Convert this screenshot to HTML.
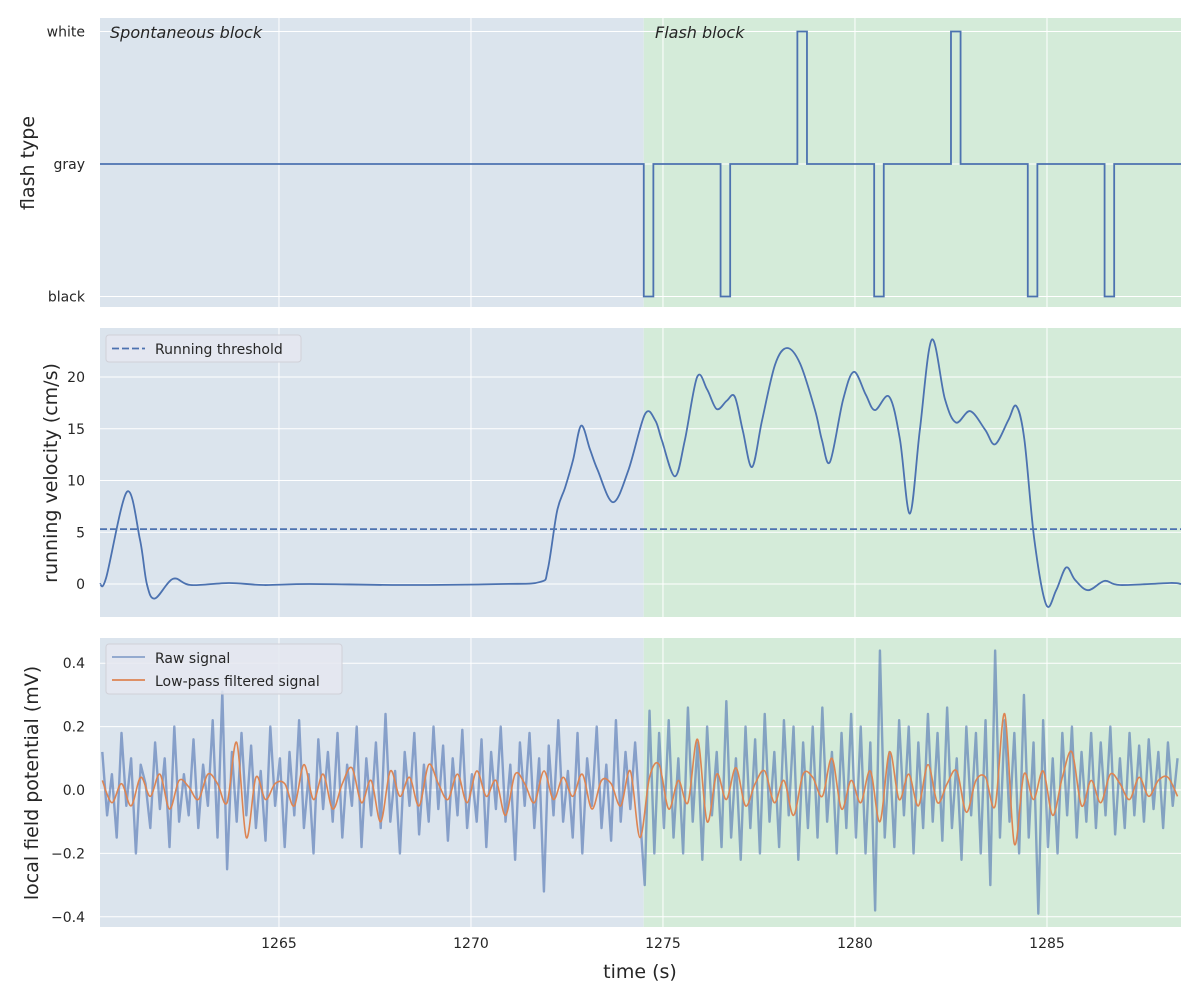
<!DOCTYPE html>
<html><head><meta charset="utf-8"><style>
body{margin:0;background:#fff;font-family:"Liberation Sans","DejaVu Sans",sans-serif}
svg text{font-family:"DejaVu Sans","Liberation Sans",sans-serif;fill:#262626}
</style></head><body>
<svg id="fig" width="1200" height="1000" xmlns="http://www.w3.org/2000/svg"></svg>
<script>
const xTicks=[1265,1270,1275,1280,1285];
const flashEventTimes=[1274.5,1276.5,1278.5,1280.5,1282.5,1284.5,1286.5];
const flashEventTypes=[-1,-1,1,-1,1,-1,-1];
const flashDuration=0.25;
const velTimes=[1260.34,1260.5,1261.04,1261.38,1261.56,1261.77,1262.24,1262.7,1263.7,1264.6,1265.8,1268.2,1270.8,1271.8,1272.0,1272.24,1272.45,1272.66,1272.87,1273.1,1273.3,1273.7,1274.1,1274.53,1274.8,1274.97,1275.31,1275.57,1275.89,1276.15,1276.4,1276.66,1276.87,1277.08,1277.32,1277.58,1277.92,1278.23,1278.57,1278.96,1279.14,1279.35,1279.69,1279.97,1280.28,1280.52,1280.89,1281.17,1281.43,1281.69,1282.0,1282.34,1282.63,1283.0,1283.39,1283.65,1283.99,1284.2,1284.41,1284.67,1284.98,1285.24,1285.5,1285.73,1286.07,1286.5,1286.9,1288.2,1288.49];
const velValues=[0,0.6,8.9,4.3,0,-1.4,0.5,-0.1,0.1,-0.1,0,-0.1,0,0.2,1.4,7,9.3,12,15.3,13,11,7.9,11,16.4,15.8,13.9,10.4,13.9,20,18.8,16.9,17.7,18.1,14.8,11.3,15.8,21.2,22.8,21.3,16.8,13.9,11.8,17.8,20.5,18.3,16.8,18.1,14,6.8,14.9,23.6,17.9,15.6,16.7,14.9,13.5,15.8,17.2,14,4.3,-2,-0.6,1.6,0.4,-0.6,0.3,-0.1,0.1,0];
const threshold=5.3;
const rawStart=1260.4, rawStep=0.125;
const rawValues=[0.12,-0.08,0.05,-0.15,0.18,-0.05,0.1,-0.2,0.08,0.02,-0.12,0.15,-0.06,0.1,-0.18,0.2,-0.1,0.05,-0.08,0.16,
-0.12,0.08,-0.05,0.22,-0.15,0.31,-0.25,0.12,-0.1,0.18,-0.08,0.14,-0.12,0.06,-0.16,0.2,-0.05,0.1,-0.18,0.12,
-0.08,0.22,-0.12,0.05,-0.2,0.16,-0.06,0.12,-0.1,0.18,-0.15,0.08,-0.05,0.2,-0.18,0.1,-0.08,0.15,-0.12,0.24,
-0.1,0.06,-0.2,0.12,-0.05,0.18,-0.14,0.08,-0.1,0.2,-0.06,0.14,-0.16,0.1,-0.08,0.19,-0.12,0.05,-0.1,0.16,
-0.18,0.12,-0.06,0.2,-0.1,0.08,-0.22,0.15,-0.05,0.18,-0.12,0.1,-0.32,0.14,-0.08,0.22,-0.1,0.06,-0.15,0.18,
-0.2,0.1,-0.05,0.2,-0.12,0.08,-0.16,0.22,-0.1,0.12,-0.06,0.15,-0.08,
-0.3,0.25,-0.2,0.18,-0.12,0.22,-0.15,0.1,-0.2,0.26,-0.1,0.15,-0.22,0.2,-0.08,0.12,-0.18,0.28,-0.15,0.1,
-0.22,0.2,-0.12,0.16,-0.2,0.24,-0.1,0.12,-0.18,0.22,-0.08,0.2,-0.22,0.15,-0.12,0.2,-0.15,0.26,-0.1,0.12,
-0.2,0.18,-0.12,0.24,-0.15,0.2,-0.2,0.15,-0.38,0.44,-0.15,0.12,-0.18,0.22,-0.08,0.2,-0.2,0.15,-0.12,0.24,
-0.1,0.18,-0.16,0.26,-0.12,0.1,-0.22,0.2,-0.08,0.18,-0.2,0.22,-0.3,0.44,-0.15,0.22,-0.1,0.18,-0.2,0.3,
-0.15,0.15,-0.39,0.22,-0.18,0.1,-0.2,0.18,-0.08,0.2,-0.15,0.12,-0.1,0.18,-0.12,0.15,-0.08,0.2,-0.14,0.1,
-0.12,0.18,-0.08,0.14,-0.1,0.16,-0.06,0.12,-0.12,0.15,-0.05,0.1];
const filtStart=1260.4, filtStep=0.25;
const filtValues=[0.03,-0.04,0.02,-0.05,0.04,-0.02,0.05,-0.06,0.03,0.01,-0.03,0.05,0.02,-0.04,0.15,-0.15,0.04,-0.03,0.02,0.02,
-0.05,0.08,-0.03,0.05,-0.06,0.02,0.07,-0.04,0.03,-0.1,0.06,-0.02,0.04,-0.05,0.08,0.02,-0.03,0.05,-0.04,0.06,
-0.02,0.03,-0.08,0.05,0.02,-0.04,0.06,-0.03,0.04,-0.02,0.05,-0.06,0.03,0.02,-0.05,0.06,-0.15,0.04,0.08,-0.06,
0.03,-0.04,0.16,-0.1,0.05,-0.03,0.07,-0.05,0.02,0.06,-0.04,0.03,-0.08,0.05,0.04,-0.02,0.1,-0.06,0.03,-0.04,
0.06,-0.1,0.12,-0.03,0.05,-0.05,0.08,-0.04,0.02,0.06,-0.07,0.03,0.04,-0.05,0.24,-0.17,0.05,-0.03,0.06,-0.08,
0.04,0.12,-0.05,0.03,-0.04,0.05,0.02,-0.03,0.04,-0.02,0.03,0.04,-0.02];
const velTicks=[0,5,10,15,20];
const lfpTicks=[-0.4,-0.2,0,0.2,0.4];
const lfpTickLabels=["\u22120.4","\u22120.2","0.0","0.2","0.4"];

const NS="http://www.w3.org/2000/svg";
const svg=document.getElementById('fig');
const X0=100,X1=1181,T0=1260.34,T1=1288.49,TSPLIT=1274.5;
const sx=t=>X0+(t-T0)/(T1-T0)*(X1-X0);
function el(tag,attrs,parent){const e=document.createElementNS(NS,tag);for(const k in attrs)e.setAttribute(k,attrs[k]);(parent||svg).appendChild(e);return e;}
function txt(s,attrs,parent){const e=el('text',attrs,parent);e.textContent=s;return e;}
function panel(top,bottom,name){
  const g=el('g',{});
  
  
  const r1=el('rect',{x:X0,y:top,width:sx(TSPLIT)-X0,height:bottom-top,fill:'#dbe4ed'},g);
  
  
  const r2=el('rect',{x:sx(TSPLIT),y:top,width:X1-sx(TSPLIT),height:bottom-top,fill:'#d4ebd9'},g);
  
  
  xTicks.forEach(t=>{el('line',{x1:sx(t),x2:sx(t),y1:top,y2:bottom,stroke:'#fff','stroke-width':1},g);});
  return g;
}
function hgrid(g,y){el('line',{x1:X0,x2:X1,y1:y,y2:y,stroke:'#fff','stroke-width':1},g);}
function smoothPath(pts){let d=`M${pts[0][0]},${pts[0][1]}`;for(let i=0;i<pts.length-1;i++){const p0=pts[Math.max(0,i-1)],p1=pts[i],p2=pts[i+1],p3=pts[Math.min(pts.length-1,i+2)];const c1x=p1[0]+(p2[0]-p0[0])/6,c1y=p1[1]+(p2[1]-p0[1])/6,c2x=p2[0]-(p3[0]-p1[0])/6,c2y=p2[1]-(p3[1]-p1[1])/6;d+=` C${c1x},${c1y} ${c2x},${c2y} ${p2[0]},${p2[1]}`;}return d;}

// Panel 1
const p1=panel(18,307,'flash-type-panel');
const fy=v=>164-v*132.5;
[1,0,-1].forEach(v=>hgrid(p1,fy(v)));
[['white',1],['gray',0],['black',-1]].forEach(([s,v])=>txt(s,{x:85,y:fy(v)+5,'font-size':14,'text-anchor':'end'},p1));
let d=`M${X0},${fy(0)}`;
flashEventTimes.forEach((t,i)=>{const v=flashEventTypes[i];d+=` H${sx(t)} V${fy(v)} H${sx(t+flashDuration)} V${fy(0)}`;});
d+=` H${X1}`;
const fl=el('path',{d:d,fill:'none',stroke:'#4c72b0','stroke-width':1.8},p1);


txt('Spontaneous block',{x:110,y:38,'font-size':16,'font-style':'italic'},p1);
txt('Flash block',{x:655,y:38,'font-size':16,'font-style':'italic'},p1);
txt('flash type',{x:0,y:0,'font-size':19,'text-anchor':'middle',transform:`translate(34,163) rotate(-90)`},p1);

// Panel 2
const p2=panel(328,617,'velocity-panel');
const vy=v=>584-v*10.35;
velTicks.forEach(v=>{hgrid(p2,vy(v));txt(String(v),{x:85,y:vy(v)+5,'font-size':14,'text-anchor':'end'},p2);});
const th=el('line',{x1:X0,x2:X1,y1:vy(threshold),y2:vy(threshold),stroke:'#4c72b0','stroke-width':1.8,'stroke-dasharray':'7,3'},p2);


const vl=el('path',{d:smoothPath(velTimes.map((t,i)=>[sx(t),vy(velValues[i])])),fill:'none',stroke:'#4c72b0','stroke-width':1.8},p2);


txt('running velocity (cm/s)',{x:0,y:0,'font-size':19,'text-anchor':'middle',transform:`translate(57,473) rotate(-90)`},p2);
const lg2=el('g',{},p2);


el('rect',{x:106,y:335,width:195,height:27,rx:3,fill:'#e5e8f0','fill-opacity':0.85,stroke:'#d0d0d8'},lg2);
el('line',{x1:112,x2:145,y1:348.5,y2:348.5,stroke:'#4c72b0','stroke-width':1.8,'stroke-dasharray':'7,3'},lg2);
txt('Running threshold',{x:155,y:354,'font-size':14},lg2);

// Panel 3
const p3=panel(638,927,'lfp-panel');
const ly=v=>790-v*317;
lfpTicks.forEach((v,i)=>{hgrid(p3,ly(v));txt(lfpTickLabels[i],{x:85,y:ly(v)+5,'font-size':14,'text-anchor':'end'},p3);});
const clip=el('clipPath',{id:'c3'});el('rect',{x:X0,y:638,width:X1-X0,height:289},clip);
const rl=el('polyline',{points:rawValues.map((v,i)=>`${sx(rawStart+i*rawStep)},${ly(v)}`).join(' '),fill:'none',stroke:'#4c72b0','stroke-opacity':0.6,'stroke-width':2.4,'stroke-linejoin':'round','clip-path':'url(#c3)'},p3);


const ol=el('path',{d:smoothPath(filtValues.map((v,i)=>[sx(filtStart+i*filtStep),ly(v)])),fill:'none',stroke:'#dd8452','stroke-width':1.6,'clip-path':'url(#c3)'},p3);


txt('local field potential (mV)',{x:0,y:0,'font-size':19,'text-anchor':'middle',transform:`translate(38,783) rotate(-90)`},p3);
const lg3=el('g',{},p3);


el('rect',{x:106,y:644,width:236,height:50,rx:3,fill:'#e5e8f0','fill-opacity':0.85,stroke:'#d0d0d8'},lg3);
el('line',{x1:112,x2:145,y1:657,y2:657,stroke:'#4c72b0','stroke-opacity':0.6,'stroke-width':1.8},lg3);
txt('Raw signal',{x:155,y:663,'font-size':14},lg3);
el('line',{x1:112,x2:145,y1:680,y2:680,stroke:'#dd8452','stroke-width':1.8},lg3);
txt('Low-pass filtered signal',{x:155,y:686,'font-size':14},lg3);

// x axis
xTicks.forEach(t=>txt(String(t),{x:sx(t),y:948,'font-size':14,'text-anchor':'middle'}));
const xl=txt('time (s)',{x:640,y:978,'font-size':19,'text-anchor':'middle'});


</script>
</body></html>
